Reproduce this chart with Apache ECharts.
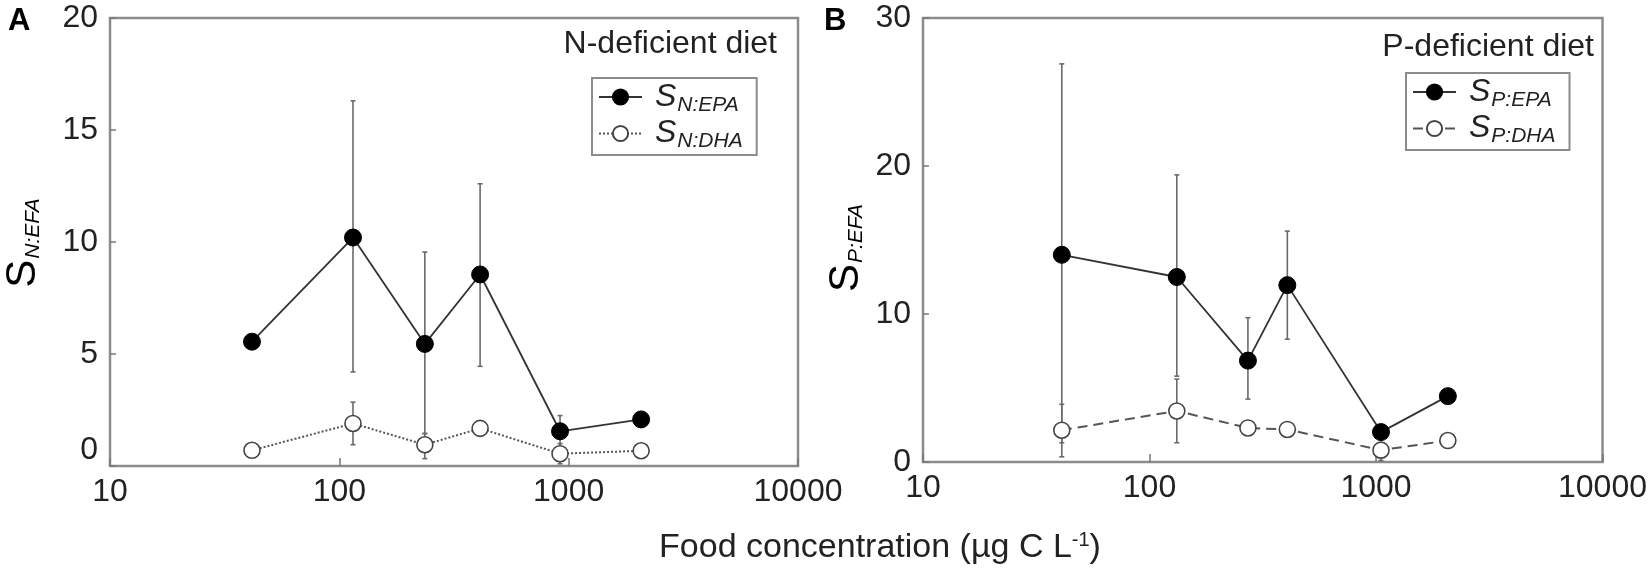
<!DOCTYPE html>
<html>
<head>
<meta charset="utf-8">
<script src="https://cdn.jsdelivr.net/npm/echarts@6/dist/echarts.min.js"></script>
<style>
html,body{margin:0;padding:0;background:#fff;}
#chart{width:1650px;height:573px;}
</style>
</head>
<body>
<div id="chart"></div>
<script>
// ---- data ----
const xTicks = [10, 100, 1000, 10000];
const yTicksA = [0, 5, 10, 15, 20];
const yTicksB = [0, 10, 20, 30];

const foodA    = [41.6, 114.7, 236, 411, 917, 2070];
const epaA     = [5.55, 10.2, 5.45, 8.55, 1.55, 2.08];
const epaLowA  = [5.35, 4.2, 1.45, 4.45, 0.85, 1.9];
const epaHighA = [5.75, 16.3, 9.55, 12.6, 2.25, 2.25];
const dhaA     = [0.7, 1.9, 0.95, 1.68, 0.55, 0.68];
const dhaLowA  = [0.55, 0.95, 0.33, 1.5, 0.1, 0.55];
const dhaHighA = [0.85, 2.85, 1.45, 1.85, 1.0, 0.8];

const foodB    = [41, 132, 272, 406, 1052, 2076];
const epaB     = [14.0, 12.5, 6.85, 11.95, 2.02, 4.45];
const epaLowB  = [1.3, 5.8, 4.25, 8.3, 1.75, 4.25];
const epaHighB = [26.9, 19.4, 9.75, 15.6, 2.3, 4.65];
const dhaB     = [2.15, 3.45, 2.3, 2.2, 0.8, 1.45];
const dhaLowB  = [0.35, 1.3, 2.1, 2.0, 0.1, 1.3];
const dhaHighB = [3.9, 5.6, 2.5, 2.4, 1.3, 1.6];

const FONT = '"Liberation Sans", Arial, sans-serif';
const TXT = '#222';
const FRAME = '#8c8c8c';

function pairs(xs, ys) { return xs.map((x, i) => [x, ys[i]]); }
function triples(xs, lo, hi) { return xs.map((x, i) => [x, lo[i], hi[i]]); }

function errorBars(xs, lo, hi, gi) {
  return {
    type: 'custom',
    xAxisIndex: gi, yAxisIndex: gi,
    z: 1,
    silent: true,
    encode: { x: 0, y: [1, 2] },
    data: triples(xs, lo, hi),
    renderItem: function (params, api) {
      const x = api.value(0);
      const a = api.coord([x, api.value(1)]);
      const b = api.coord([x, api.value(2)]);
      const st = { stroke: '#6a6a6a', lineWidth: 1.6 };
      const c = 2.5;
      return {
        type: 'group',
        children: [
          { type: 'line', shape: { x1: a[0], y1: a[1], x2: b[0], y2: b[1] }, style: st },
          { type: 'line', shape: { x1: a[0] - c, y1: a[1], x2: a[0] + c, y2: a[1] }, style: st },
          { type: 'line', shape: { x1: b[0] - c, y1: b[1], x2: b[0] + c, y2: b[1] }, style: st }
        ]
      };
    }
  };
}

function xAxis(gi) {
  return {
    type: 'log', logBase: 10, gridIndex: gi,
    min: xTicks[0], max: xTicks[xTicks.length - 1],
    axisLine: { show: false },
    axisTick: { show: true, inside: true, length: 8, lineStyle: { color: '#777', width: 1.5 } },
    splitLine: { show: false },
    minorTick: { show: false },
    axisLabel: {
      fontSize: 32, color: TXT, fontFamily: FONT, margin: 10,
      formatter: v => String(Math.round(v))
    }
  };
}
function yAxis(gi, ticks, minBottom) {
  const lab = { fontSize: 32, color: TXT, fontFamily: FONT, margin: 12 };
  if (minBottom) lab.verticalAlignMinLabel = 'bottom';
  return {
    type: 'value', gridIndex: gi,
    min: ticks[0], max: ticks[ticks.length - 1], interval: ticks[1] - ticks[0],
    axisLine: { show: false },
    axisTick: { show: true, inside: true, length: 6, lineStyle: { color: '#777', width: 1.5 } },
    splitLine: { show: false },
    axisLabel: lab
  };
}

function epaSeries(name, xs, ys, gi) {
  return {
    name: name, type: 'line', xAxisIndex: gi, yAxisIndex: gi, z: 3,
    data: pairs(xs, ys),
    symbol: 'circle', symbolSize: 17,
    lineStyle: { color: '#333', width: 1.8, type: 'solid' },
    itemStyle: { color: '#000', borderColor: '#000', borderWidth: 1 },
    animation: false
  };
}
function dhaSeries(name, xs, ys, gi, dash) {
  return {
    name: name, type: 'line', xAxisIndex: gi, yAxisIndex: gi, z: 2,
    data: pairs(xs, ys),
    symbol: 'circle', symbolSize: 16,
    lineStyle: { color: '#555', width: 2, type: dash },
    itemStyle: { color: '#fff', borderColor: '#444', borderWidth: 1.6 },
    animation: false
  };
}

const subLab = {
  'SN:EPA': 'N:EPA', 'SN:DHA': 'N:DHA', 'SP:EPA': 'P:EPA', 'SP:DHA': 'P:DHA'
};
const legendRich = {
  s: { fontSize: 32, fontStyle: 'italic', fontFamily: FONT, color: TXT, padding: [0, 0, 0, 8] },
  sub: { fontSize: 21, fontStyle: 'italic', fontFamily: FONT, color: TXT, padding: [16, 0, 0, 1] }
};
function legend(left, top, names) {
  return {
    data: names,
    orient: 'vertical',
    left: left, top: top,
    borderColor: FRAME, borderWidth: 2,
    padding: [3, 14, 3, 6],
    itemGap: 2,
    itemWidth: 43, itemHeight: 19,
    formatter: n => '{s|S}{sub|' + subLab[n] + '}',
    textStyle: { rich: legendRich },
    selectedMode: false
  };
}

const chart = echarts.init(document.getElementById('chart'), null, { renderer: 'canvas' });
chart.setOption({
  animation: false,
  backgroundColor: '#fff',
  grid: [
    { left: 110, right: 852, top: 18, bottom: 107, show: true, borderColor: FRAME, borderWidth: 2.5 },
    { left: 923, right: 37, top: 18, bottom: 111, show: true, borderColor: FRAME, borderWidth: 2.5 }
  ],
  xAxis: [xAxis(0), xAxis(1)],
  yAxis: [yAxis(0, yTicksA, true), yAxis(1, yTicksB, false)],
  legend: [
    legend(592, 78, ['SN:EPA', 'SN:DHA']),
    legend(1406, 73, ['SP:EPA', 'SP:DHA'])
  ],
  series: [
    errorBars(foodA, epaLowA, epaHighA, 0),
    errorBars(foodA, dhaLowA, dhaHighA, 0),
    dhaSeries('SN:DHA', foodA, dhaA, 0, [2, 2]),
    epaSeries('SN:EPA', foodA, epaA, 0),
    errorBars(foodB, epaLowB, epaHighB, 1),
    errorBars(foodB, dhaLowB, dhaHighB, 1),
    dhaSeries('SP:DHA', foodB, dhaB, 1, [10, 6]),
    epaSeries('SP:EPA', foodB, epaB, 1)
  ],
  graphic: [
    { type: 'text', left: 8, top: 6, style: { text: 'A', font: 'bold 31px ' + FONT, fill: '#000' } },
    { type: 'text', left: 824, top: 6, style: { text: 'B', font: 'bold 31px ' + FONT, fill: '#000' } },
    { type: 'text', x: 777, y: 44, style: { text: 'N-deficient diet', font: '32px ' + FONT, fill: TXT, textAlign: 'right', textVerticalAlign: 'middle' } },
    { type: 'text', x: 1594, y: 47, style: { text: 'P-deficient diet', font: '32px ' + FONT, fill: TXT, textAlign: 'right', textVerticalAlign: 'middle' } },
    { type: 'text', x: 880, y: 548, style: {
        text: '{a|Food concentration (µg C L}{sup|-1}{a|)}',
        textAlign: 'center', textVerticalAlign: 'middle',
        rich: {
          a: { fontSize: 34, fontFamily: FONT, fill: TXT, color: TXT },
          sup: { fontSize: 20, fontFamily: FONT, fill: TXT, color: TXT, padding: [0, 0, 16, 0] }
        }
    } },
    { type: 'text', x: 23, y: 243, rotation: Math.PI / 2, style: {
        text: '{s|S}{sub|N:EFA}',
        textAlign: 'center', textVerticalAlign: 'middle',
        rich: {
          s: { fontSize: 42, fontFamily: FONT, color: TXT },
          sub: { fontSize: 21, fontStyle: 'italic', fontFamily: FONT, color: TXT, padding: [20, 0, 0, 1] }
        }
    } },
    { type: 'text', x: 846, y: 248, rotation: Math.PI / 2, style: {
        text: '{s|S}{sub|P:EFA}',
        textAlign: 'center', textVerticalAlign: 'middle',
        rich: {
          s: { fontSize: 42, fontFamily: FONT, color: TXT },
          sub: { fontSize: 21, fontStyle: 'italic', fontFamily: FONT, color: TXT, padding: [20, 0, 0, 1] }
        }
    } }
  ]
});
</script>
</body>
</html>
